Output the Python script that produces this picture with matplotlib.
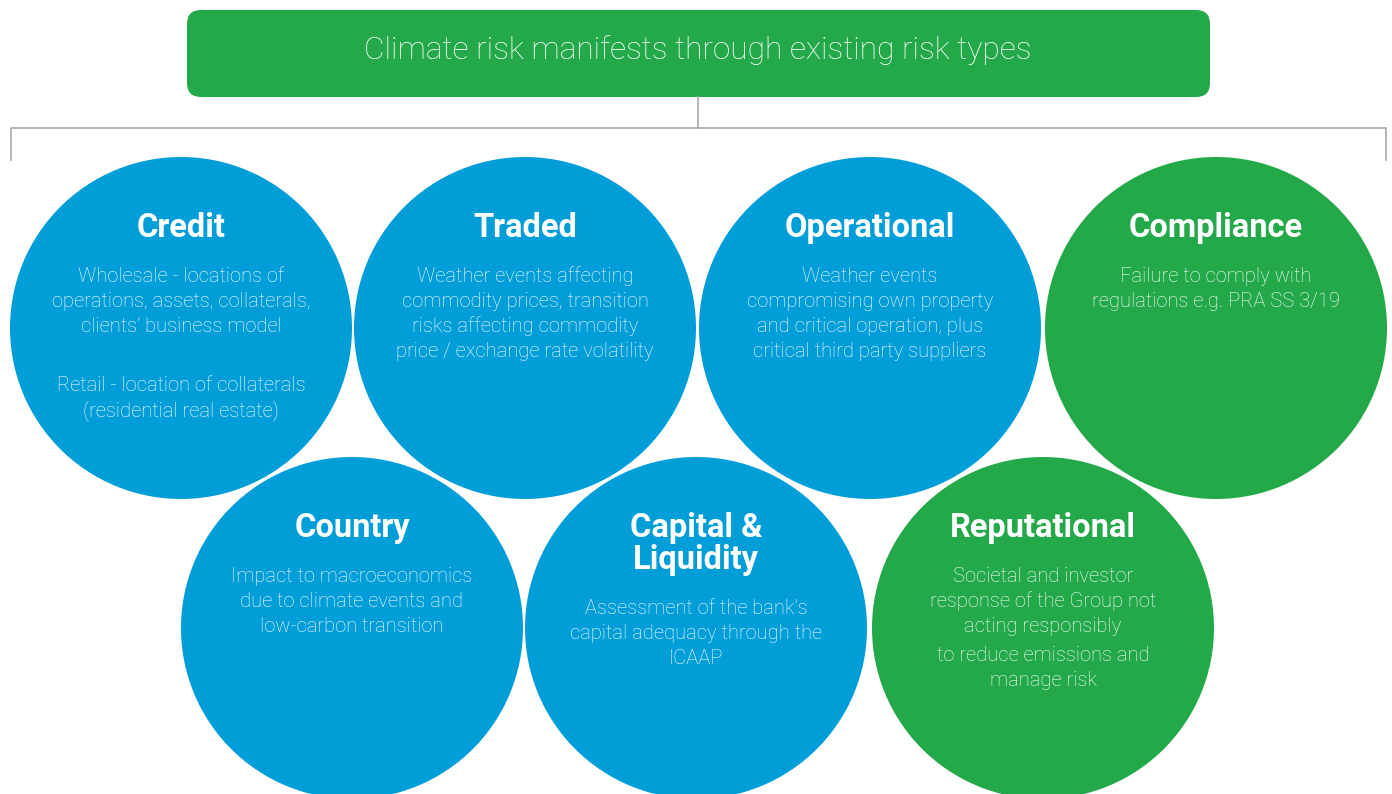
"""
    Climate risk types diagram
"""

import matplotlib
matplotlib.use("Agg")
import matplotlib.pyplot as plt
from matplotlib.patches import Circle, FancyBboxPatch

HEADER = "Climate risk manifests through existing risk types"

NAMES = ["Credit", "Traded", "Operational", "Compliance",
         "Country", "Capital &\nLiquidity", "Reputational"]

DESCRIPTIONS = [
    [["Wholesale - locations of", "operations, assets, collaterals,", "clients\u2019 business model"],
     ["Retail - location of collaterals", "(residential real estate)"]],
    [["Weather events affecting", "commodity prices, transition", "risks affecting commodity",
      "price / exchange rate volatility"]],
    [["Weather events", "compromising own property", "and critical operation, plus",
      "critical third party suppliers"]],
    [["Failure to comply with", "regulations e.g. PRA SS 3/19"]],
    [["Impact to macroeconomics", "due to climate events and", "low-carbon transition"]],
    [["Assessment of the bank\u2019s", "capital adequacy through the", "ICAAP"]],
    [["Societal and investor", "response of the Group not", "acting responsibly"],
     ["to reduce emissions and", "manage risk"]],
]

KIND = ["blue", "blue", "blue", "green", "blue", "blue", "green"]

# layout (pixels)
W, H = 1392, 794
BLUE = "#009ED9"
GREEN = "#23A94A"
LINE = "#A8A8A8"
R = 171
CENTERS = [(181, 328), (525, 328), (870, 328), (1216, 328),
           (352, 628), (696, 628), (1043, 628)]
PARA_GAP = [59, 25, 25, 25, 25, 25, 29]
FONT = "Roboto"

fig = plt.figure(figsize=(W / 100, H / 100), dpi=100)
ax = fig.add_axes([0, 0, 1, 1])
ax.set_xlim(0, W)
ax.set_ylim(H, 0)
ax.axis("off")

# header box
ax.add_patch(FancyBboxPatch((187, 10), 1023, 87,
                            boxstyle="round,pad=0,rounding_size=14",
                            fc=GREEN, ec="none"))
ax.text(698, 50, HEADER, ha="center", va="center", color="white",
        fontsize=22.8, family=FONT, fontweight="light")

# connector lines
ax.plot([698, 698], [97, 128], color=LINE, lw=1.2)
ax.plot([11, 11, 1386, 1386], [160, 128, 128, 160], color=LINE, lw=1.2)

for name, desc, kind, (cx, cy), gap in zip(NAMES, DESCRIPTIONS, KIND, CENTERS, PARA_GAP):
    ax.add_patch(Circle((cx, cy), R, fc=BLUE if kind == "blue" else GREEN, ec="none"))
    ty = cy - 100
    for t in name.split("\n"):
        ax.text(cx, ty, t, ha="center", va="center", color="white",
                fontsize=23.5, family=FONT, fontweight="bold")
        ty += 32
    y = ty + 16.5
    for i, para in enumerate(desc):
        if i > 0:
            y += gap - 25
        for line in para:
            ax.text(cx, y, line, ha="center", va="center", color="white",
                    fontsize=14.5, family=FONT, fontweight="light")
            y += 25

fig.savefig("out.png", dpi=100)
